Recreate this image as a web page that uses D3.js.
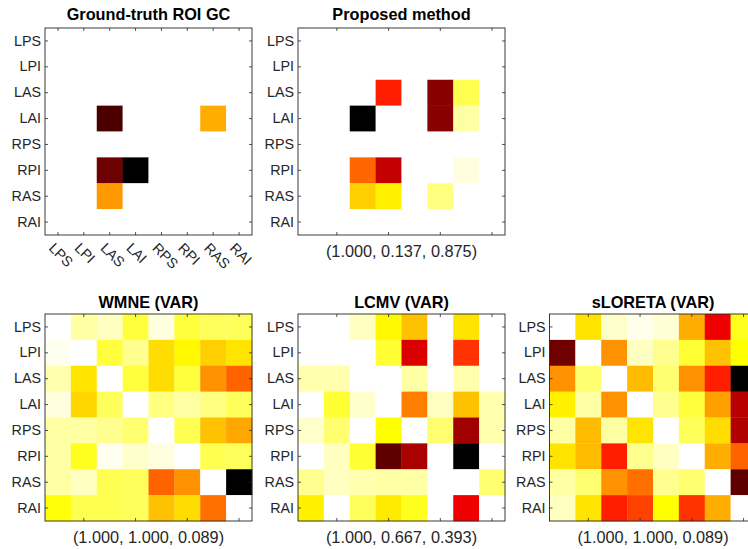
<!DOCTYPE html>
<html>
<head>
<meta charset="utf-8">
<script src="https://cdn.jsdelivr.net/npm/d3@7"></script>
<style>
  body { margin: 0; background: #fff; }
  svg { display: block; font-family: "Liberation Sans", Arial, Helvetica, sans-serif; }
</style>
</head>
<body>
<div id="chart"></div>
<script>
// ROI labels (rows = target, columns = source)
const rois = ["LPS", "LPI", "LAS", "LAI", "RPS", "RPI", "RAS", "RAI"];

// normalised GC values (0 = none, 1 = max of each panel)
const groundTruth = [
  [0, 0, 0, 0, 0, 0, 0, 0],
  [0, 0, 0, 0, 0, 0, 0, 0],
  [0, 0, 0, 0, 0, 0, 0, 0],
  [0, 0, 0.89, 0, 0, 0, 0.37, 0],
  [0, 0, 0, 0, 0, 0, 0, 0],
  [0, 0, 0.84, 1.0, 0, 0, 0, 0],
  [0, 0, 0.40, 0, 0, 0, 0, 0],
  [0, 0, 0, 0, 0, 0, 0, 0]
];
const proposed = [
  [0, 0, 0, 0, 0, 0, 0, 0],
  [0, 0, 0, 0, 0, 0, 0, 0],
  [0, 0, 0, 0.58, 0, 0.80, 0.17, 0],
  [0, 0, 1.0, 0, 0, 0.80, 0.09, 0],
  [0, 0, 0, 0, 0, 0, 0, 0],
  [0, 0, 0.475, 0.71, 0, 0, 0.03, 0],
  [0, 0, 0.32, 0.27, 0, 0.125, 0, 0],
  [0, 0, 0, 0, 0, 0, 0, 0]
];
const wmne = [
  [0, 0.09, 0.06, 0.19, 0.03, 0.19, 0.16, 0.16],
  [0.015, 0, 0.19, 0.11, 0.30, 0.26, 0.32, 0.29],
  [0.08, 0.29, 0, 0.19, 0.30, 0.19, 0.41, 0.48],
  [0.03, 0.31, 0.16, 0, 0.125, 0.09, 0.125, 0.16],
  [0.09, 0.09, 0.11, 0.14, 0, 0.17, 0.34, 0.38],
  [0.09, 0.22, 0.015, 0.05, 0.03, 0, 0.17, 0.16],
  [0.09, 0.06, 0.17, 0.16, 0.48, 0.41, 0, 1.0],
  [0.24, 0.17, 0.17, 0.16, 0.34, 0.30, 0.46, 0]
];
const lcmv = [
  [0, 0, 0.06, 0.26, 0.34, 0, 0.29, 0],
  [0, 0, 0, 0.20, 0.68, 0, 0.55, 0],
  [0.08, 0.08, 0, 0, 0.09, 0, 0.08, 0],
  [0, 0.20, 0.05, 0, 0.44, 0.06, 0.34, 0.08],
  [0.05, 0.14, 0, 0.25, 0, 0.14, 0.765, 0.08],
  [0, 0.06, 0.20, 0.86, 0.75, 0, 1.0, 0],
  [0.11, 0.06, 0.08, 0.09, 0.09, 0, 0, 0.14],
  [0.27, 0, 0.16, 0.28, 0.22, 0, 0.65, 0]
];
const sloreta = [
  [0, 0.29, 0.05, 0.02, 0.04, 0.37, 0.65, 0.22],
  [0.835, 0, 0.41, 0.06, 0.11, 0.20, 0.34, 0.25],
  [0.41, 0.14, 0, 0.35, 0.14, 0.41, 0.58, 1.0],
  [0.27, 0.09, 0.41, 0, 0.11, 0.19, 0.39, 0.73],
  [0.09, 0.35, 0.09, 0.29, 0, 0.16, 0.30, 0.74],
  [0.29, 0.35, 0.58, 0.11, 0.06, 0, 0.37, 0.48],
  [0.09, 0.14, 0.41, 0.46, 0.11, 0.14, 0, 0.86],
  [0.06, 0.29, 0.58, 0.53, 0.25, 0.55, 0.37, 0]
];

const titles = ["Ground-truth ROI GC", "Proposed method", "WMNE (VAR)", "LCMV (VAR)", "sLORETA (VAR)"];
const xLabels = ["", "(1.000, 0.137, 0.875)", "(1.000, 1.000, 0.089)", "(1.000, 0.667, 0.393)", "(1.000, 1.000, 0.089)"];

const panels = [
  { title: titles[0], values: groundTruth, xlabel: xLabels[0], x: 45,  y: 28 },
  { title: titles[1], values: proposed,    xlabel: xLabels[1], x: 298, y: 28 },
  { title: titles[2], values: wmne,        xlabel: xLabels[2], x: 45,  y: 314 },
  { title: titles[3], values: lcmv,        xlabel: xLabels[3], x: 298, y: 314 },
  { title: titles[4], values: sloreta,     xlabel: xLabels[4], x: 549.5, y: 314 }
];

const size = 207;
const axisColor = "#262626";

// flipped MATLAB "hot": 0 -> white, 1 -> black
function hotr(v) {
  const t = 1 - v;
  const c = x => Math.max(0, Math.min(1, x));
  const r = c(t / 0.375), g = c((t - 0.375) / 0.375), b = c((t - 0.75) / 0.25);
  return d3.rgb(r * 255, g * 255, b * 255);
}

const svg = d3.select("#chart").append("svg")
  .attr("width", 748)
  .attr("height", 549);

panels.forEach((p, i) => {
  const g = svg.append("g").attr("transform", `translate(${p.x},${p.y})`);

  const x = d3.scaleBand().domain(rois).range([0, size]);
  const y = d3.scaleBand().domain(rois).range([0, size]);

  // cells
  const cells = [];
  p.values.forEach((row, r) => row.forEach((v, c) => cells.push({ row: rois[r], col: rois[c], v })));
  g.selectAll("rect.cell")
    .data(cells)
    .join("rect")
    .attr("class", "cell")
    .attr("x", d => x(d.col))
    .attr("y", d => y(d.row))
    .attr("width", x.bandwidth() + 0.3)
    .attr("height", y.bandwidth() + 0.3)
    .attr("fill", d => hotr(d.v));

  const everyOther = rois.filter((d, k) => k % 2 === 1);
  const xTicks = i === 0 ? rois : everyOther;

  // axes, ticks pointing inwards
  const left = g.append("g")
    .call(d3.axisLeft(y).tickSizeInner(-3).tickSizeOuter(0).tickPadding(4));
  g.append("g").attr("transform", `translate(${size},0)`)
    .call(d3.axisRight(y).tickSizeInner(-3).tickSizeOuter(0).tickFormat(""));
  g.append("g")
    .call(d3.axisTop(x).tickValues(xTicks).tickSizeInner(-3).tickSizeOuter(0).tickFormat(""));
  const bottom = g.append("g").attr("transform", `translate(0,${size})`)
    .call(d3.axisBottom(x).tickValues(xTicks).tickSizeInner(-3).tickSizeOuter(0)
      .tickFormat(i === 0 ? d => d : ""));

  g.selectAll(".domain").remove();
  g.selectAll(".tick line").attr("stroke", axisColor).attr("stroke-width", 0.8);
  g.selectAll(".tick text")
    .attr("fill", axisColor)
    .style("font-size", "14.3px");

  if (i === 0) {
    bottom.selectAll(".tick text")
      .attr("text-anchor", "start")
      .attr("x", 0).attr("y", 0).attr("dy", 0)
      .attr("transform", "translate(-10,14) rotate(45)");
  }

  g.append("rect")
    .attr("width", size)
    .attr("height", size)
    .attr("fill", "none")
    .attr("stroke", axisColor)
    .attr("stroke-width", 0.9);

  g.append("text")
    .attr("x", size / 2)
    .attr("y", i < 2 ? -8 : -6.5)
    .attr("text-anchor", "middle")
    .style("font-size", "16.3px")
    .style("font-weight", "bold")
    .attr("fill", "#000")
    .text(p.title);

  if (p.xlabel) {
    g.append("text")
      .attr("x", size / 2)
      .attr("y", size + 21.5)
      .attr("text-anchor", "middle")
      .style("font-size", "16.3px")
      .attr("fill", axisColor)
      .text(p.xlabel);
  }
});
</script>
</body>
</html>
